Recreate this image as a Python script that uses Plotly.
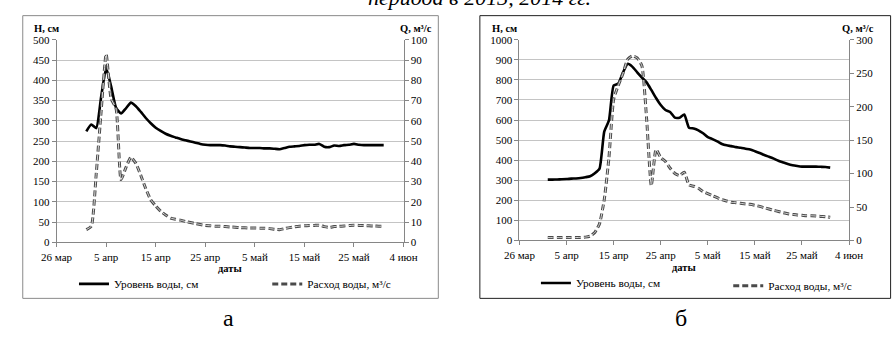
import pandas as pd
import plotly.graph_objects as go

# ---------------- data ----------------
# daily observations, 1 Apr .. 31 May
dates = pd.date_range("2013-04-01", "2013-05-31", freq="D")

# panel "а"
level_a = [274, 291, 282, 360, 430, 385, 332, 318, 331, 345,
           336, 322, 307, 294, 283, 275, 268, 263, 259, 255,
           252, 249, 246, 243, 241, 240, 240, 240, 239, 237,
           236, 235, 234, 233, 233, 233, 232, 232, 231, 230,
           233, 236, 237, 238, 240, 241, 241, 243, 236, 235,
           239, 238, 240, 241, 243, 241, 240, 240, 240, 240, 240]
flow_a = [6.3, 8, 34, 65, 93, 71, 66, 31, 37, 42,
          39, 33, 26.5, 21, 18, 15.4, 13.5, 12, 11.4, 11,
          10.3, 9.8, 9.3, 8.8, 8.4, 8.2, 8, 8, 7.8, 7.6,
          7.5, 7.3, 7.2, 7.1, 7.1, 7, 7, 6.8, 6.5, 6.3,
          6.8, 7.3, 7.7, 8, 8.2, 8.3, 8.4, 8.5, 7.8, 7.4,
          7.8, 7.9, 8.1, 8.3, 8.5, 8.4, 8.3, 8.2, 8.1, 8, 8]

# panel "б"
level_b = [303, 303, 304, 305, 306, 308, 309, 311, 315, 320,
           335, 358, 542, 598, 772, 782, 838, 880, 865, 838,
           812, 788, 750, 710, 675, 650, 640, 612, 612, 628,
           562, 558, 549, 534, 515, 505, 494, 481, 474, 470,
           465, 462, 457, 453, 445, 436, 426, 417, 408, 397,
           389, 381, 375, 371, 368, 368, 368, 368, 367, 366, 363]
flow_b = [4.3, 4.3, 4.3, 4.3, 4.3, 4.3, 4.4, 4.5, 5, 6.5,
          12, 25, 61, 124, 211, 232, 250, 271, 276, 273,
          261, 182, 82, 136, 124, 118, 108, 100, 97, 102,
          83, 81, 78, 73, 70, 67, 64, 61, 59, 57,
          56.4, 55.5, 54.5, 54, 52.6, 51, 49, 47, 45, 43.4,
          41.5, 40, 39, 38, 37.6, 37, 37, 36.5, 36, 35.6, 34.7]

tick_vals = ["2013-03-26", "2013-04-05", "2013-04-15", "2013-04-25",
             "2013-05-05", "2013-05-15", "2013-05-25", "2013-06-04"]
tick_text = ["26 мар", "5 апр", "15 апр", "25 апр",
             "5 май", "15 май", "25 май", "4 июн"]

name_level = "Уровень воды, см"
name_flow = "Расход воды, м³/с"

# ---------------- figure ----------------
W, H = 893, 342
FONT = "Liberation Serif"
AX = "#868686"
GRID = "#c4c4c4"


def px(x):
    return x / W


def py(y):
    return 1 - y / H


fig = go.Figure()

panels = [
    dict(level=level_a, flow=flow_a, x="x", y1="y", y2="y2",
         leg1="legend", leg2="legend2"),
    dict(level=level_b, flow=flow_b, x="x2", y1="y3", y2="y4",
         leg1="legend3", leg2="legend4"),
]

for p in panels:
    fig.add_trace(go.Scatter(
        x=dates, y=p["level"], name=name_level, mode="lines",
        line=dict(color="black", width=2.6, shape="spline", smoothing=0.5),
        xaxis=p["x"], yaxis=p["y1"], legend=p["leg1"]))
    fig.add_trace(go.Scatter(
        x=dates, y=p["flow"], name=name_flow, mode="lines",
        line=dict(color="#4a4a4a", width=3, dash="6px,3px",
                  shape="spline", smoothing=0.5),
        xaxis=p["x"], yaxis=p["y2"], legend=p["leg2"]))
    fig.add_trace(go.Scatter(
        x=dates, y=p["flow"], mode="lines", showlegend=False,
        hoverinfo="skip",
        line=dict(color="#d8d8d8", width=1, dash="6px,3px",
                  shape="spline", smoothing=0.5),
        xaxis=p["x"], yaxis=p["y2"]))

xcommon = dict(type="date", tickmode="array", tickvals=tick_vals,
               ticktext=tick_text, range=[tick_vals[0], tick_vals[-1]],
               showgrid=False, showline=True, linecolor=AX, linewidth=1,
               ticks="outside", ticklen=4, tickcolor=AX,
               tickfont=dict(family=FONT, size=11, color="black"),
               zeroline=False, fixedrange=True)
ycommon = dict(showline=True, linecolor=AX, linewidth=1, ticks="outside",
               ticklen=4, tickcolor=AX, zeroline=False,
               tickfont=dict(family=FONT, size=11, color="black"))

fig.update_layout(
    width=W, height=H, autosize=False,
    margin=dict(l=0, r=0, t=0, b=0),
    paper_bgcolor="white", plot_bgcolor="white",
    font=dict(family=FONT, color="black"),
    xaxis=dict(domain=[px(42), px(401)], anchor="y", **xcommon),
    yaxis=dict(domain=[py(245), py(35)], anchor="x", range=[0, 500],
               dtick=50, showgrid=True, gridcolor=GRID, **ycommon),
    yaxis2=dict(overlaying="y", side="right", anchor="x", range=[0, 100],
                dtick=10, showgrid=False, **ycommon),
    xaxis2=dict(domain=[px(521), px(862)], anchor="y3", **xcommon),
    yaxis3=dict(domain=[py(243), py(35)], anchor="x2", range=[0, 1000],
                dtick=100, showgrid=True, gridcolor=GRID, **ycommon),
    yaxis4=dict(overlaying="y3", side="right", anchor="x2", range=[0, 300],
                dtick=50, showgrid=False, **ycommon),
)

legfont = dict(family=FONT, size=11.3, color="black")
for key, x0, y0 in [("legend", 60, 288), ("legend2", 260, 288),
                    ("legend3", 538, 287), ("legend4", 737, 290)]:
    fig.update_layout({key: dict(x=px(x0), y=py(y0), xanchor="left",
                                 yanchor="middle", orientation="h",
                                 bgcolor="rgba(0,0,0,0)", font=legfont,
                                 borderwidth=0)})

shapes = [
    dict(type="rect", xref="paper", yref="paper", x0=px(7), x1=px(437),
         y0=py(303), y1=py(10), line=dict(color="#8a8a8a", width=1)),
    dict(type="rect", xref="paper", yref="paper", x0=px(480), x1=px(905),
         y0=py(303), y1=py(10), line=dict(color="#202020", width=1)),
]
fig.update_layout(shapes=shapes)

ann = []


def add(text, x, y, size, xanchor="center", bold=False, italic=False):
    t = text
    if bold:
        t = "<b>" + t + "</b>"
    if italic:
        t = "<i>" + t + "</i>"
    ann.append(dict(text=t, x=px(x), y=py(y), xref="paper", yref="paper",
                    xanchor=xanchor, yanchor="middle", showarrow=False,
                    font=dict(family=FONT, size=size, color="black")))


add("H, см", 17, 23, 10.5, "left", bold=True)
add("Q, м³/с", 433, 23, 10.5, "right", bold=True)
add("H, см", 490, 23, 10.5, "left", bold=True)
add("Q, м³/с", 890, 23, 10.5, "right", bold=True)
add("даты", 221.5, 272, 10.5, bold=True)
add("даты", 691, 271, 10.5, bold=True)
add("а", 220, 323, 24)
add("б", 688, 323, 24)
add("периода в 2013, 2014 гг.", 480, -9, 22, italic=True)
fig.update_layout(annotations=ann)

fig.write_html("out.html",
               config={"displayModeBar": False},
               post_script="document.body.style.margin='0';"
                           "document.body.style.overflow='hidden';")
